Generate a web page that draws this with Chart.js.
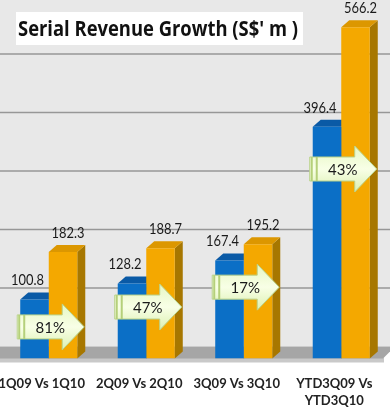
<!DOCTYPE html>
<html>
<head>
<meta charset="utf-8">
<script src="https://cdn.jsdelivr.net/npm/chart.js@4/dist/chart.umd.min.js"></script>
<style>
  html, body { margin: 0; padding: 0; background: #fff; }
</style>
</head>
<body>
<canvas id="chart" width="390" height="408"></canvas>
<script>
// data
const categories = ["1Q09 Vs 1Q10", "2Q09 Vs 2Q10", "3Q09 Vs 3Q10", ["YTD3Q09 Vs", "YTD3Q10"]];
const prevValues = [100.8, 128.2, 167.4, 396.4];
const currValues = [182.3, 188.7, 195.2, 566.2];
const growthLabels = ["81%", "47%", "17%", "43%"];
const gridValues = [100, 200, 300, 400, 500];
const chartTitle = "Serial Revenue Growth (S$' m )";

// 3D look
const DX = 8, DY = 7, WALL = 12;

// background wall, grid on the back wall, floor
const backdrop = {
  id: "backdrop",
  beforeDraw(chart) {
    const ctx = chart.ctx;
    const y = chart.scales.y;
    const yBase = y.getPixelForValue(0);
    const yWall = yBase - WALL;
    ctx.save();
    ctx.fillStyle = "#ffffff";
    ctx.fillRect(0, 0, chart.width, chart.height);
    ctx.fillStyle = "#e8e8e8";
    ctx.fillRect(0, 0, chart.width, yWall);

    ctx.strokeStyle = "#979797";
    ctx.lineWidth = 1.5;
    gridValues.forEach(v => {
      const py = y.getPixelForValue(v) - WALL;
      ctx.beginPath();
      ctx.moveTo(0, py);
      ctx.lineTo(chart.width, py);
      ctx.stroke();
    });

    // floor
    ctx.fillStyle = "#c9c9c9";
    ctx.fillRect(0, yBase - 1, chart.width - 6, 5);
    ctx.fillStyle = "#a6a6a6";
    ctx.beginPath();
    ctx.moveTo(0, yWall);
    ctx.lineTo(chart.width, yWall);
    ctx.lineTo(chart.width, yWall + 5);
    ctx.lineTo(chart.width - 7, yBase);
    ctx.lineTo(0, yBase);
    ctx.closePath();
    ctx.fill();
    ctx.restore();
  }
};

// side and top faces, drawn before the flat bars
const depth = {
  id: "depth",
  beforeDatasetsDraw(chart) {
    const ctx = chart.ctx;
    ctx.save();
    chart.data.datasets.forEach((ds, i) => {
      chart.getDatasetMeta(i).data.forEach(bar => {
        const l = bar.x - bar.width / 2, r = bar.x + bar.width / 2;
        const t = bar.y, b = bar.base;
        ctx.fillStyle = ds.sideColor;
        ctx.beginPath();
        ctx.moveTo(r, t);
        ctx.lineTo(r + DX, t - DY);
        ctx.lineTo(r + DX, b - DY);
        ctx.lineTo(r, b);
        ctx.closePath();
        ctx.fill();
        ctx.fillStyle = ds.topColor;
        ctx.beginPath();
        ctx.moveTo(l, t);
        ctx.lineTo(l + DX, t - DY);
        ctx.lineTo(r + DX, t - DY);
        ctx.lineTo(r, t);
        ctx.closePath();
        ctx.fill();
      });
    });
    ctx.restore();
  }
};

function drawArrow(ctx, x0, cy, text) {
  const L = 67, HL = 22, HH = 46, BH = 24;
  const xh = x0 + L - HL;
  const g = ctx.createLinearGradient(0, cy - HH / 2, 0, cy + HH / 2);
  g.addColorStop(0, "#e6f7c4");
  g.addColorStop(0.5, "#f8ffe6");
  g.addColorStop(1, "#dcf0b2");
  ctx.fillStyle = g;
  ctx.strokeStyle = "#b9d38a";
  ctx.lineWidth = 1;
  ctx.beginPath();
  ctx.moveTo(x0, cy - BH / 2);
  ctx.lineTo(xh, cy - BH / 2);
  ctx.lineTo(xh, cy - HH / 2);
  ctx.lineTo(x0 + L, cy);
  ctx.lineTo(xh, cy + HH / 2);
  ctx.lineTo(xh, cy + BH / 2);
  ctx.lineTo(x0, cy + BH / 2);
  ctx.closePath();
  ctx.fill();
  ctx.stroke();
  // stripes on the tail
  ctx.fillStyle = "#b5d07a";
  ctx.fillRect(x0 + 1, cy - BH / 2, 2, BH);
  ctx.fillRect(x0 + 6, cy - BH / 2, 2, BH);
  ctx.fillStyle = "#1a1a1a";
  ctx.font = "15px Lato";
  ctx.textAlign = "center";
  ctx.textBaseline = "middle";
  ctx.fillText(text, x0 + 33, cy + 1);
}

// value labels, growth arrows and the boxed title
const overlay = {
  id: "overlay",
  afterDatasetsDraw(chart, args, opts) {
    const ctx = chart.ctx;
    const y = chart.scales.y;
    ctx.save();
    ctx.font = "15px Lato";
    ctx.fillStyle = "#1a1a1a";
    ctx.textAlign = "center";
    ctx.textBaseline = "middle";
    chart.data.datasets.forEach((ds, i) => {
      chart.getDatasetMeta(i).data.forEach((bar, j) => {
        const shift = i === 0 ? -7 : 5;
        ctx.fillText(ds.data[j].toFixed(1), bar.x + shift, bar.y - 19, 33);
      });
    });

    const blue = chart.getDatasetMeta(0).data;
    growthLabels.forEach((txt, j) => {
      const bar = blue[j];
      drawArrow(ctx, bar.x - bar.width / 2 - 3, y.getPixelForValue(opts.at[j]), txt);
    });

    ctx.fillStyle = "#ffffff";
    ctx.fillRect(16, 12, 287, 33);
    ctx.fillStyle = "#111111";
    ctx.font = "bold 22px 'Open Sans'";
    ctx.textAlign = "left";
    ctx.textBaseline = "alphabetic";
    ctx.fillText(chartTitle, 18, 36, 280);
    ctx.restore();
  }
};

new Chart(document.getElementById("chart"), {
  type: "bar",
  data: {
    labels: categories,
    datasets: [
      {
        label: "2009",
        data: prevValues,
        backgroundColor: "#0b6fc6",
        topColor: "#0a5aa6",
        sideColor: "#084c8c"
      },
      {
        label: "2010",
        data: currValues,
        backgroundColor: "#f4a800",
        topColor: "#dc9700",
        sideColor: "#a77700"
      }
    ]
  },
  options: {
    responsive: false,
    animation: false,
    devicePixelRatio: 1,
    layout: { padding: 0 },
    categoryPercentage: 0.585,
    barPercentage: 1.0,
    plugins: {
      legend: { display: false },
      tooltip: { enabled: false },
      title: { display: false },
      overlay: { at: [54, 88, 122, 324] }
    },
    scales: {
      x: {
        grid: { display: false, drawTicks: false },
        border: { display: false },
        ticks: {
          color: "#222",
          font: { family: "Lato", size: 13, weight: "bold", lineHeight: 1.3 },
          padding: 17,
          labelOffset: -7,
          maxRotation: 0,
          autoSkip: false
        },
        // keep the plot full width and the axis band fixed
        afterFit: function (s) {
          s.paddingLeft = 0;
          s.paddingRight = 0;
          s.height = 49.5;
        }
      },
      y: { display: false, min: 0, max: 613 }
    }
  },
  plugins: [backdrop, depth, overlay]
});
</script>
</body>
</html>
